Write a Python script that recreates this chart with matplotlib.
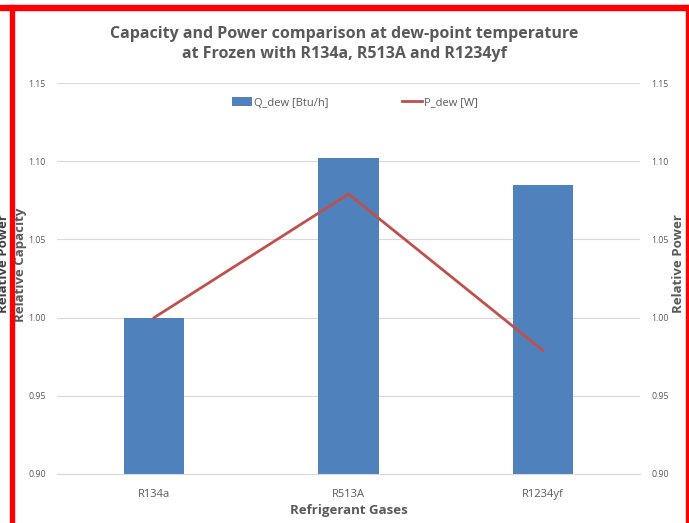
import matplotlib.pyplot as plt
from matplotlib.patches import Patch, Rectangle
from matplotlib.lines import Line2D

# data
gases = ['R134a', 'R513A', 'R1234yf']
q_dew = [1.000, 1.102, 1.085]   # relative capacity
p_dew = [1.000, 1.079, 0.979]   # relative power

bar_col = '#4f81bd'
line_col = '#c0504d'
txt_col = '#595959'
grid_col = '#d9d9d9'

plt.rcParams['font.family'] = ['Open Sans', 'DejaVu Sans']

fig = plt.figure(figsize=(6.89, 5.23), dpi=100)
ax = fig.add_axes([0.0827, 0.0937, 0.8463, 0.7476])
ax2 = ax.twinx()

x = list(range(len(gases)))
ax.bar(x, q_dew, width=0.31, color=bar_col, zorder=2)
ax2.plot(x, p_dew, color=line_col, lw=2, zorder=3)

yt = [0.90, 0.95, 1.00, 1.05, 1.10, 1.15]
for a in (ax, ax2):
    a.set_ylim(0.90, 1.15)
    a.set_yticks(yt)
    a.set_yticklabels(['%.2f' % v for v in yt])
    a.tick_params(axis='y', length=0, labelsize=6.3, labelcolor=txt_col, pad=8)
    for s in a.spines.values():
        s.set_visible(False)
ax.set_xlim(-0.5, 2.5)
ax.set_xticks(x)
ax.set_xticklabels(gases)
ax.tick_params(axis='x', length=0, labelsize=8, labelcolor=txt_col, pad=11)
ax.spines['bottom'].set_visible(True)
ax.spines['bottom'].set_color(grid_col)
ax.yaxis.grid(True, color=grid_col, lw=0.8, zorder=0)
ax.set_axisbelow(True)

ax.set_xlabel('Refrigerant Gases', fontsize=9.5, fontweight='bold', color=txt_col, labelpad=3)

# titles and axis labels
fig.text(0.5, 1 - 44 / 523, 'Capacity and Power comparison at dew-point temperature\nat Frozen with R134a, R513A and R1234yf',
         ha='center', va='center', fontsize=11.5, fontweight='bold', color=txt_col, linespacing=1.3)
fig.text(21 / 689, 0.493, 'Relative Capacity', rotation=90, ha='center', va='center',
         fontsize=9.5, fontweight='bold', color=txt_col)
fig.text(4 / 689, 0.497, 'Relative Power', rotation=90, ha='center', va='center',
         fontsize=9.5, fontweight='bold', color='#404040')
fig.text(678 / 689, 0.497, 'Relative Power', rotation=90, ha='center', va='center',
         fontsize=9.5, fontweight='bold', color=txt_col)

# legend
handles = [Patch(facecolor=bar_col, edgecolor='none'),
           Line2D([0], [0], color=line_col, lw=2)]
fig.legend(handles, ['Q_dew [Btu/h]', 'P_dew [W]'], loc='center',
           bbox_to_anchor=(355 / 689, 1 - 103 / 523), ncol=2, frameon=False,
           fontsize=8, labelcolor=txt_col, columnspacing=6.6, handlelength=1.8,
           handletextpad=0.15, handleheight=0.8)

# red frame around the figure
fig.patches.append(Rectangle((0, 1 - 10 / 523), 1, 5 / 523, transform=fig.transFigure,
                             color='#ff0000', zorder=10))
fig.patches.append(Rectangle((10 / 689, 0), 3.5 / 689, 1 - 5 / 523, transform=fig.transFigure,
                             color='#ff0000', zorder=10))
fig.patches.append(Rectangle((686 / 689, 0), 2 / 689, 1 - 5 / 523, transform=fig.transFigure,
                             color='#ff0000', zorder=10))

fig.savefig('out.png', dpi=100)
